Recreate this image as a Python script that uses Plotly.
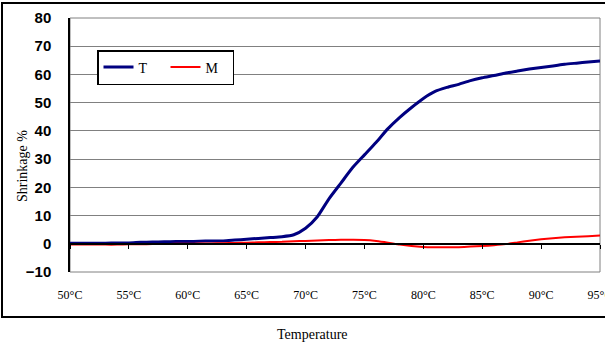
import plotly.graph_objects as go

temps = list(range(50, 96))
T_vals = [0.2, 0.2, 0.2, 0.2, 0.3, 0.3, 0.5, 0.6, 0.7, 0.8,
          0.8, 0.9, 1.0, 1.0, 1.3, 1.6, 1.9, 2.2, 2.5, 3.2,
          5.5, 9.6, 16.0, 21.5, 27.0, 31.5, 36.0, 40.8, 44.8, 48.3,
          51.5, 54.0, 55.4, 56.5, 57.8, 58.8, 59.6, 60.5, 61.2, 61.9,
          62.5, 63.0, 63.6, 64.0, 64.4, 64.8]
M_vals = [-0.3, -0.3, -0.3, -0.3, -0.3, -0.2, -0.2, -0.1, -0.1, 0.0,
          0.0, 0.1, 0.1, 0.2, 0.3, 0.4, 0.5, 0.6, 0.7, 0.9,
          1.0, 1.2, 1.35, 1.4, 1.4, 1.35, 1.0, 0.4, -0.3, -0.8,
          -1.1, -1.2, -1.25, -1.2, -1.0, -0.8, -0.5, -0.1, 0.5, 1.1,
          1.6, 2.0, 2.3, 2.5, 2.7, 2.9]
x_ticks = [50, 55, 60, 65, 70, 75, 80, 85, 90, 95]
x_ticktext = ["50°C", "55°C", "60°C", "65°C", "70°C", "75°C", "80°C", "85°C", "90°C", "95°C"]
y_ticks = [-10, 0, 10, 20, 30, 40, 50, 60, 70, 80]

SERIF = "Liberation Serif"
SANS = "Liberation Sans"

fig = go.Figure()
fig.add_trace(go.Scatter(x=temps, y=T_vals, name="T", mode="lines",
                         line=dict(color="#000080", width=3, shape="spline", smoothing=0.6)))
fig.add_trace(go.Scatter(x=temps, y=M_vals, name="M", mode="lines",
                         line=dict(color="#FF0000", width=2, shape="spline", smoothing=0.6)))
# dummy trace to activate the zero-line axis
fig.add_trace(go.Scatter(x=[None], y=[None], xaxis="x2", showlegend=False, hoverinfo="skip"))

W, H = 605, 343
L, R, T, B = 70, 5, 18, 71
pw, ph = W - L - R, H - T - B

def px_x(p):
    return (p - L) / pw

def px_y(p):
    return (H - B - p) / ph

XR = [50, 95.0001]

fig.update_layout(
    width=W, height=H,
    margin=dict(l=L, r=R, t=T, b=B, autoexpand=False),
    paper_bgcolor="white", plot_bgcolor="white",
    showlegend=True,
    legend=dict(orientation="h", x=px_x(97), y=px_y(50), xanchor="left", yanchor="top",
                bordercolor="black", borderwidth=1.5, bgcolor="white",
                font=dict(family=SERIF, size=14, color="black"),
                entrywidth=22, entrywidthmode="pixels",
                itemwidth=30, tracegroupgap=0),
    xaxis=dict(range=XR, tickvals=x_ticks, ticktext=x_ticktext, automargin=False,
               showgrid=False, zeroline=False, showline=False, ticks="",
               ticklabelstandoff=14, ticklabeloverflow="allow",
               tickfont=dict(family=SERIF, size=12, color="black")),
    xaxis2=dict(range=XR, overlaying="x", anchor="free", side="bottom",
                position=(0 - (-10)) / 90, automargin=False,
                tickvals=x_ticks, showticklabels=False, ticks="outside", ticklen=4,
                tickcolor="black", showline=True, linecolor="black", linewidth=1.5,
                showgrid=False, zeroline=False),
    yaxis=dict(range=[-10, 80], tickvals=y_ticks, showgrid=True, gridcolor="#808080",
               gridwidth=1, zeroline=False, showline=True, linecolor="black", linewidth=1.5,
               ticks="", ticklabelstandoff=14, automargin=False,
               tickfont=dict(family=SANS, size=15, color="black", weight="bold")),
    shapes=[
        dict(type="rect", xref="paper", yref="paper", x0=0, x1=1, y0=0, y1=1,
             line=dict(color="#808080", width=1), layer="below"),
        dict(type="rect", xref="paper", yref="paper", x0=px_x(2), x1=px_x(625),
             y0=px_y(317), y1=px_y(3), line=dict(color="black", width=2), layer="below"),
    ],
    annotations=[
        dict(text="Temperature", xref="paper", yref="paper", x=px_x(312), y=px_y(334),
             xanchor="center", yanchor="middle", showarrow=False,
             font=dict(family=SERIF, size=14, color="black")),
        dict(text="Shrinkage %", xref="paper", yref="paper", x=px_x(22), y=px_y(166),
             xanchor="center", yanchor="middle", showarrow=False, textangle=-90,
             font=dict(family=SERIF, size=14, color="black")),
    ],
)

fig.write_html("out.html")
